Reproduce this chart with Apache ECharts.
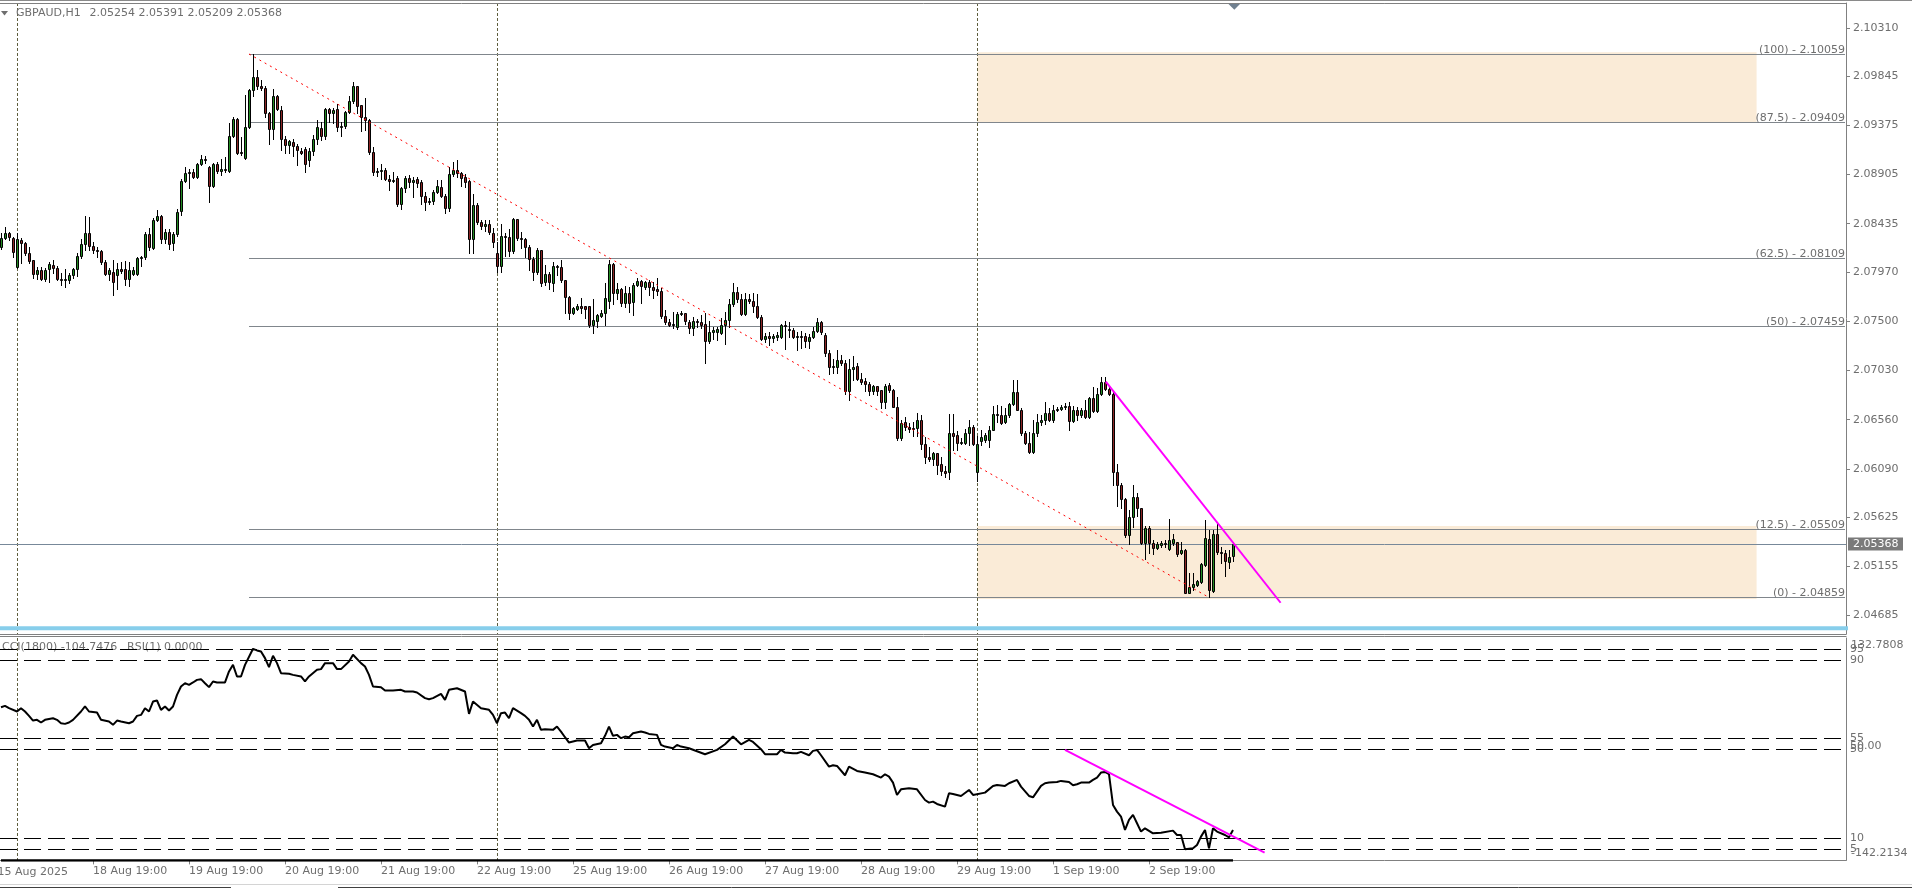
<!DOCTYPE html>
<html><head><meta charset="utf-8">
<script src="https://cdn.jsdelivr.net/npm/echarts@6/dist/echarts.min.js"></script>
<style>html,body{margin:0;padding:0;background:#fff;overflow:hidden}#c{width:1912px;height:889px}</style>
</head><body><div id="c"></div>
<script>
const symbolTitle = 'GBPAUD,H1';
const titleQuote = '2.05254 2.05391 2.05209 2.05368';
const cciTitle = 'CCI(1800) -104.7476';
const rsiTitle = 'RSI(1) 0.0000';

const opens = [
2.0821,2.0830,2.0835,2.0830,2.0802,2.0828,2.0825,2.0815,2.0809,2.0795,
2.0799,2.0791,2.0800,2.0804,2.0801,2.0791,2.0790,2.0790,2.0794,2.0800,
2.0813,2.0824,2.0835,2.0822,2.0818,2.0817,2.0807,2.0795,2.0797,2.0794,
2.0800,2.0800,2.0791,2.0795,2.0795,2.0811,2.0812,2.0834,2.0820,2.0847,
2.0851,2.0829,2.0836,2.0825,2.0834,2.0856,2.0884,2.0892,2.0893,2.0888,
2.0901,2.0905,2.0898,2.0880,2.0901,2.0894,2.0896,2.0894,2.0927,2.0944,
2.0912,2.0906,2.0936,2.0971,2.0984,2.0975,2.0973,2.0949,2.0934,2.0966,
2.0952,2.0925,2.0919,2.0922,2.0918,2.0913,2.0915,2.0904,2.0913,2.0925,
2.0935,2.0927,2.0953,2.0949,2.0953,2.0936,2.0937,2.0950,2.0961,2.0975,
2.0957,2.0946,2.0943,2.0912,2.0893,2.0894,2.0895,2.0886,2.0884,2.0887,
2.0862,2.0878,2.0887,2.0883,2.0886,2.0883,2.0870,2.0864,2.0865,2.0874,
2.0879,2.0870,2.0859,2.0891,2.0895,2.0892,2.0888,2.0884,2.0829,2.0861,
2.0845,2.0841,2.0843,2.0835,2.0815,2.0803,2.0832,2.0831,2.0817,2.0848,
2.0830,2.0829,2.0821,2.0810,2.0797,2.0818,2.0788,2.0795,2.0787,2.0803,
2.0802,2.0790,2.0773,2.0758,2.0762,2.0765,2.0765,2.0765,2.0747,2.0750,
2.0755,2.0758,2.0770,2.0805,2.0777,2.0781,2.0768,2.0777,2.0769,2.0785,
2.0789,2.0783,2.0788,2.0783,2.0781,2.0779,2.0755,2.0749,2.0747,2.0745,
2.0757,2.0758,2.0749,2.0744,2.0750,2.0749,2.0748,2.0731,2.0740,2.0740,
2.0739,2.0747,2.0751,2.0767,2.0778,2.0771,2.0757,2.0771,2.0770,2.0765,
2.0754,2.0733,2.0736,2.0734,2.0735,2.0735,2.0747,2.0743,2.0742,2.0735,
2.0736,2.0736,2.0731,2.0735,2.0741,2.0749,2.0737,2.0720,2.0706,2.0706,
2.0713,2.0710,2.0683,2.0704,2.0707,2.0695,2.0693,2.0690,2.0683,2.0688,
2.0684,2.0673,2.0689,2.0684,2.0668,2.0638,2.0654,2.0649,2.0647,2.0648,
2.0656,2.0633,2.0620,2.0618,2.0624,2.0614,2.0607,2.0606,2.0643,2.0641,
2.0634,2.0634,2.0643,2.0649,2.0606,2.0636,2.0637,2.0637,2.0646,2.0661,
2.0660,2.0654,2.0660,2.0671,2.0682,2.0665,2.0643,2.0634,2.0625,2.0643,
2.0654,2.0656,2.0662,2.0656,2.0665,2.0666,2.0668,2.0669,2.0655,2.0665,
2.0660,2.0665,2.0659,2.0677,2.0664,2.0681,2.0692,2.0685,2.0681,2.0606,
2.0593,2.0580,2.0546,2.0563,2.0582,2.0571,2.0538,2.0552,2.0538,2.0533,
2.0536,2.0538,2.0532,2.0538,2.0539,2.0528,2.0531,2.0490,2.0496,2.0498,
2.0501,2.0517,2.0542,2.0492,2.0547,2.0529,2.0528,2.0520,2.05254];

const highs = [
2.0835,2.0840,2.0836,2.0831,2.0835,2.0830,2.0826,2.0821,2.0809,2.0802,
2.0802,2.0801,2.0807,2.0809,2.0803,2.0796,2.0800,2.0796,2.0801,2.0815,
2.0829,2.0851,2.0850,2.0826,2.0821,2.0818,2.0809,2.0801,2.0809,2.0806,
2.0807,2.0808,2.0807,2.0802,2.0812,2.0813,2.0836,2.0839,2.0849,2.0857,
2.0852,2.0838,2.0838,2.0836,2.0858,2.0886,2.0898,2.0896,2.0896,2.0902,
2.0909,2.0908,2.0899,2.0902,2.0903,2.0905,2.0907,2.0940,2.0946,2.0945,
2.0926,2.0967,2.0972,2.10059,2.0991,2.0981,2.0975,2.0950,2.0972,2.0967,
2.0956,2.0927,2.0924,2.0925,2.0920,2.0916,2.0917,2.0916,2.0928,2.0943,
2.0941,2.0954,2.0954,2.0954,2.0958,2.0941,2.0951,2.0966,2.0979,2.0975,
2.0957,2.0964,2.0944,2.0917,2.0897,2.0901,2.0897,2.0890,2.0893,2.0889,
2.0879,2.0889,2.0890,2.0888,2.0888,2.0885,2.0874,2.0868,2.0876,2.0885,
2.0885,2.0872,2.0898,2.0903,2.0904,2.0893,2.0891,2.0885,2.0872,2.0863,
2.0847,2.0847,2.0847,2.0839,2.0826,2.0843,2.0835,2.0838,2.0849,2.0848,
2.0836,2.0830,2.0823,2.0812,2.0820,2.0818,2.0804,2.0797,2.0807,2.0804,
2.0809,2.0790,2.0774,2.0764,2.0767,2.0772,2.0765,2.0765,2.0771,2.0757,
2.0761,2.0787,2.0809,2.0806,2.0787,2.0782,2.0784,2.0783,2.0787,2.0792,
2.0790,2.0789,2.0790,2.0788,2.0792,2.0782,2.0761,2.0752,2.0759,2.0759,
2.0760,2.0758,2.0751,2.0754,2.0752,2.0756,2.0758,2.0750,2.0745,2.0745,
2.0753,2.0759,2.0771,2.0787,2.0783,2.0776,2.0777,2.0776,2.0777,2.0776,
2.0756,2.0739,2.0740,2.0738,2.0740,2.0748,2.0750,2.0749,2.0744,2.0740,
2.0741,2.0739,2.0738,2.0745,2.0753,2.0750,2.0739,2.0723,2.0714,2.0723,
2.0718,2.0713,2.0714,2.0717,2.0710,2.0701,2.0696,2.0692,2.0689,2.0688,
2.0684,2.0690,2.0691,2.0685,2.0678,2.0656,2.0659,2.0653,2.0654,2.0662,
2.0660,2.0639,2.0630,2.0625,2.0624,2.0620,2.0612,2.0661,2.0661,2.0645,
2.0638,2.0647,2.0656,2.0651,2.0640,2.0646,2.0643,2.0650,2.0669,2.0670,
2.0669,2.0667,2.0672,2.0694,2.0694,2.0667,2.0645,2.0644,2.0656,2.0661,
2.0660,2.0673,2.0667,2.0670,2.0668,2.0670,2.0672,2.0673,2.0669,2.0668,
2.0667,2.0675,2.0678,2.0687,2.0686,2.0697,2.0697,2.0688,2.0682,2.0614,
2.0595,2.0581,2.0570,2.0593,2.0586,2.0571,2.0554,2.0554,2.0541,2.0539,
2.0540,2.0541,2.0561,2.0547,2.0539,2.0539,2.0532,2.0509,2.0509,2.0503,
2.0519,2.0560,2.0550,2.0550,2.0557,2.0534,2.0531,2.0531,2.05391];

const lows = [
2.0819,2.0829,2.0828,2.0812,2.0801,2.0806,2.0814,2.0806,2.0792,2.0791,
2.0790,2.0789,2.0788,2.0796,2.0790,2.0785,2.0783,2.0787,2.0792,2.0793,
2.0811,2.0818,2.0818,2.0815,2.0812,2.0805,2.0794,2.0790,2.0775,2.0781,
2.0796,2.0785,2.0784,2.0794,2.0794,2.0803,2.0810,2.0818,2.0819,2.0846,
2.0825,2.0825,2.0819,2.0818,2.0832,2.0852,2.0883,2.0878,2.0887,2.0887,
2.0900,2.0902,2.0864,2.0879,2.0892,2.0890,2.0893,2.0893,2.0926,2.0910,
2.0909,2.0905,2.0935,2.0966,2.0972,2.0971,2.0946,2.0920,2.0925,2.0952,
2.0914,2.0911,2.0911,2.0908,2.0900,2.0910,2.0893,2.0899,2.0909,2.0920,
2.0924,2.0925,2.0941,2.0940,2.0932,2.0927,2.0935,2.0949,2.0959,2.0949,
2.0932,2.0933,2.0910,2.0890,2.0889,2.0886,2.0885,2.0876,2.0883,2.0860,
2.0858,2.0874,2.0879,2.0869,2.0879,2.0862,2.0857,2.0862,2.0862,2.0873,
2.0869,2.0854,2.0856,2.0889,2.0888,2.0880,2.0879,2.0815,2.0815,2.0843,
2.0838,2.0837,2.0834,2.0821,2.0797,2.0797,2.0813,2.0813,2.0815,2.0828,
2.0820,2.0812,2.0799,2.0790,2.0795,2.0784,2.0785,2.0781,2.0779,2.0794,
2.0788,2.0758,2.0752,2.0757,2.0761,2.0758,2.0753,2.0745,2.0739,2.0745,
2.0754,2.0747,2.0763,2.0767,2.0771,2.0765,2.0764,2.0759,2.0756,2.0784,
2.0768,2.0781,2.0775,2.0772,2.0775,2.0753,2.0748,2.0746,2.0744,2.0743,
2.0756,2.0748,2.0739,2.0737,2.0745,2.0744,2.0710,2.0729,2.0733,2.0732,
2.0738,2.0728,2.0745,2.0765,2.0769,2.0756,2.0756,2.0768,2.0759,2.0753,
2.0732,2.0730,2.0727,2.0730,2.0732,2.0734,2.0724,2.0735,2.0734,2.0723,
2.0725,2.0726,2.0725,2.0734,2.0740,2.0738,2.0717,2.0700,2.0701,2.0701,
2.0708,2.0681,2.0675,2.0694,2.0694,2.0690,2.0683,2.0680,2.0681,2.0680,
2.0667,2.0667,2.0682,2.0668,2.0637,2.0637,2.0646,2.0644,2.0640,2.0640,
2.0628,2.0615,2.0616,2.0613,2.0604,2.0603,2.0601,2.0599,2.0627,2.0627,
2.0633,2.0633,2.0632,2.0632,2.0597,2.0632,2.0635,2.0630,2.0646,2.0654,
2.0652,2.0653,2.0659,2.0670,2.0665,2.0641,2.0633,2.0624,2.0624,2.0640,
2.0651,2.0652,2.0655,2.0654,2.0664,2.0665,2.0666,2.0646,2.0654,2.0656,
2.0659,2.0658,2.0658,2.0663,2.0663,2.0680,2.0684,2.0680,2.0593,2.0573,
2.0571,2.0544,2.0537,2.0553,2.0564,2.0537,2.0523,2.0528,2.0527,2.0532,
2.0534,2.0534,2.0531,2.0536,2.0526,2.0527,2.0490,2.0490,2.0493,2.0497,
2.0500,2.0516,2.04859,2.0491,2.0527,2.0519,2.0506,2.0514,2.05209];

const closes = [
2.0830,2.0835,2.0831,2.0816,2.0829,2.0825,2.0815,2.0808,2.0795,2.0799,
2.0791,2.0799,2.0805,2.0801,2.0791,2.0790,2.0791,2.0794,2.0800,2.0813,
2.0824,2.0835,2.0822,2.0818,2.0817,2.0807,2.0795,2.0799,2.0788,2.0800,
2.0798,2.0791,2.0799,2.0799,2.0811,2.0812,2.0834,2.0821,2.0847,2.0851,
2.0829,2.0836,2.0824,2.0834,2.0855,2.0884,2.0892,2.0893,2.0888,2.0901,
2.0905,2.0904,2.0880,2.0901,2.0894,2.0896,2.0895,2.0927,2.0944,2.0911,
2.0911,2.0936,2.0971,2.0984,2.0975,2.0973,2.0949,2.0934,2.0966,2.0953,
2.0925,2.0919,2.0923,2.0918,2.0914,2.0911,2.0901,2.0913,2.0925,2.0936,
2.0927,2.0953,2.0949,2.0952,2.0936,2.0937,2.0950,2.0961,2.0975,2.0956,
2.0946,2.0943,2.0912,2.0893,2.0894,2.0895,2.0886,2.0884,2.0885,2.0862,
2.0878,2.0887,2.0883,2.0885,2.0882,2.0870,2.0864,2.0865,2.0874,2.0880,
2.0870,2.0859,2.0891,2.0895,2.0892,2.0887,2.0883,2.0829,2.0861,2.0845,
2.0841,2.0843,2.0836,2.0826,2.0803,2.0832,2.0831,2.0817,2.0848,2.0830,
2.0829,2.0821,2.0810,2.0797,2.0818,2.0787,2.0795,2.0788,2.0803,2.0802,
2.0790,2.0773,2.0758,2.0763,2.0765,2.0763,2.0762,2.0747,2.0751,2.0756,
2.0758,2.0772,2.0805,2.0777,2.0781,2.0768,2.0777,2.0768,2.0785,2.0789,
2.0784,2.0788,2.0783,2.0780,2.0779,2.0755,2.0749,2.0747,2.0748,2.0757,
2.0758,2.0750,2.0744,2.0750,2.0749,2.0747,2.0731,2.0740,2.0742,2.0743,
2.0747,2.0751,2.0767,2.0778,2.0771,2.0757,2.0771,2.0770,2.0765,2.0754,
2.0733,2.0736,2.0734,2.0736,2.0737,2.0747,2.0746,2.0742,2.0735,2.0736,
2.0735,2.0731,2.0735,2.0741,2.0749,2.0740,2.0720,2.0706,2.0707,2.0713,
2.0710,2.0683,2.0704,2.0706,2.0695,2.0692,2.0690,2.0683,2.0688,2.0683,
2.0673,2.0688,2.0684,2.0668,2.0638,2.0653,2.0649,2.0647,2.0648,2.0656,
2.0633,2.0620,2.0618,2.0624,2.0613,2.0607,2.0605,2.0643,2.0640,2.0634,
2.0635,2.0643,2.0649,2.0633,2.0633,2.0639,2.0641,2.0646,2.0661,2.0660,
2.0653,2.0660,2.0671,2.0682,2.0665,2.0643,2.0634,2.0625,2.0643,2.0654,
2.0656,2.0662,2.0656,2.0665,2.0666,2.0668,2.0669,2.0655,2.0665,2.0660,
2.0665,2.0659,2.0677,2.0664,2.0681,2.0692,2.0685,2.0681,2.0606,2.0593,
2.0580,2.0546,2.0563,2.0582,2.0571,2.0538,2.0552,2.0538,2.0533,2.0537,
2.0538,2.0537,2.0541,2.0542,2.0527,2.0531,2.0490,2.0496,2.0499,2.0502,
2.0518,2.0543,2.0493,2.0547,2.0529,2.0528,2.0521,2.0525,2.05368];

const cciPoints = [
[0,47.2],[1,48.9],[2,46.0],[4,41.9],[5,46.0],[6,41.9],[7,36.5],[8,30.7],[9,31.6],[10,28.3],[11,31.6],[13,33.6],[14,31.6],[15,27.4],[16,26.6],[17,28.3],[18,31.6],[20,41.9],[21,48.1],[22,41.9],[24,40.6],[25,31.6],[27,29.5],[28,25.4],[29,30.7],[30,29.5],[32,27.4],[33,29.5],[34,36.5],[35,37.7],[36,46.0],[37,41.9],[38,54.2],[39,55.5],[40,43.9],[41,48.1],[42,43.1],[43,48.1],[44,62.5],[45,72.8],[46,76.9],[47,74.9],[48,77.8],[49,81.0],[50,81.9],[51,76.9],[52,72.0],[53,79.0],[54,77.8],[56,77.8],[57,91.4],[58,99.6],[59,85.2],[60,85.2],[61,99.6],[63,119.4],[64,117.4],[65,116.1],[66,107.9],[67,96.7],[68,110.8],[69,101.7],[70,89.3],[72,88.5],[73,87.2],[75,85.2],[76,79.0],[77,85.2],[79,93.4],[80,94.3],[81,101.7],[83,101.7],[84,94.3],[85,94.3],[87,103.7],[88,112.0],[90,101.7],[91,97.6],[92,87.2],[93,72.8],[95,72.0],[96,67.9],[98,67.9],[100,68.7],[101,66.6],[103,66.6],[104,65.4],[106,58.4],[107,57.1],[108,58.4],[110,63.7],[111,56.3],[112,68.7],[114,70.7],[116,66.6],[117,39.0],[118,54.2],[120,46.0],[122,44.0],[123,37.7],[124,27.4],[125,39.8],[126,40.6],[127,33.6],[128,46.0],[130,39.8],[131,36.5],[132,31.6],[133,23.3],[134,31.6],[135,19.2],[136,20.0],[138,19.2],[139,23.3],[140,17.1],[141,10.1],[142,3.5],[144,6.0],[146,6.0],[147,-3.5],[148,0.6],[150,2.7],[151,11.8],[152,23.3],[153,11.8],[154,13.0],[155,8.9],[156,10.9],[157,10.1],[158,15.0],[160,17.1],[161,15.9],[162,14.2],[164,13.0],[165,0.6],[166,-1.5],[168,-3.5],[169,0.6],[170,-1.5],[172,-3.5],[176,-10.9],[179,-5.6],[181,1.4],[183,10.9],[185,1.4],[187,6.8],[188,4.3],[190,-4.7],[191,-10.9],[194,-10.9],[195,-5.6],[196,-8.9],[198,-9.7],[199,-9.7],[200,-8.0],[202,-12.2],[203,-6.8],[204,-5.6],[205,-12.2],[207,-26.2],[208,-24.5],[209,-25.4],[211,-36.9],[212,-26.2],[214,-31.6],[216,-33.6],[218,-35.7],[220,-39.8],[221,-35.7],[222,-38.6],[223,-46.0],[224,-61.3],[225,-54.3],[227,-53.0],[229,-54.3],[231,-67.5],[232,-70.8],[233,-69.5],[234,-72.4],[236,-75.7],[237,-59.2],[238,-60.0],[240,-62.5],[242,-55.1],[243,-61.3],[246,-58.4],[248,-50.1],[249,-48.9],[251,-50.1],[252,-46.8],[254,-42.7],[255,-51.0],[257,-62.5],[258,-64.2],[260,-50.1],[261,-46.8],[262,-46.0],[264,-45.2],[265,-43.9],[267,-45.2],[268,-49.3],[269,-48.1],[270,-46.0],[272,-46.0],[273,-42.7],[274,-39.8],[275,-33.6],[276,-32.8],[277,-35.7],[278,-73.6],[279,-81.9],[280,-88.1],[281,-104.6],[282,-92.2],[283,-86.0],[284,-96.3],[285,-106.6],[286,-102.5],[288,-108.7],[290,-107.9],[293,-105.4],[294,-110.8],[295,-110.8],[296,-128.5],[298,-127.3],[299,-123.1],[300,-112.8],[301,-104.6],[302,-127.3],[303,-102.5],[304,-106.6],[306,-110.8],[307,-113.7],[308,-104.7476]];

const rsiPoints = [[0,0],[308,0]];
const cciMax = 132.7808, cciMin = -142.2134;
const rsiLevels = [95, 90, 55, 50, 10, 5];
const extraLevelLabel = '50.00';

const priceTicks = [2.10310,2.09845,2.09375,2.08905,2.08435,2.07970,2.07500,2.07030,2.06560,2.06090,2.05625,2.05155,2.04685];
const timeTickIdx = [23,47,71,95,119,143,167,191,215,239,263,287];
const timeTickLabels = ['18 Aug 19:00','19 Aug 19:00','20 Aug 19:00','21 Aug 19:00','22 Aug 19:00','25 Aug 19:00','26 Aug 19:00','27 Aug 19:00','28 Aug 19:00','29 Aug 19:00','1 Sep 19:00','2 Sep 19:00'];
const firstDateLabel = '15 Aug 2025';
const separatorIdx = [4, 124, 244];

const fibLevels = [100, 87.5, 62.5, 50, 12.5, 0];
const fibPrices = [2.10059, 2.09409, 2.08109, 2.07459, 2.05509, 2.04859];
const fibStartIdx = 62;
const zoneStart = [244.1, 244.1];
const zoneEnd = [438.9, 438.9];
const zoneTop = [2.10075, 2.05542];
const zoneBottom = [2.09409, 2.04844];

const redTrend = [[62, 2.10059], [302, 2.04859]];
const magentaTrend = [[276.2, 2.06923], [319.9, 2.04808]];
const cciTrend = [[266, -5.6], [315.9, -132.7]];
const bidPrice = 2.05368;
const blueLinePrice = 2.04563;

// ---------- chart ----------
const FONT = '11px "DejaVu Sans"';
const TXT = '#6e6e6e';
const AX = '#808080';
const xMin = -0.25, xMax = 461.25;
const yMin = 2.04509, yMax = 2.10547;

const candleData = opens.map((o, i) => [i, o, highs[i], lows[i], closes[i]]);

function renderCandle(params, api) {
  const i = api.value(0), o = api.value(1), h = api.value(2), l = api.value(3), c = api.value(4);
  const pO = api.coord([i, o]), pH = api.coord([i, h]), pL = api.coord([i, l]), pC = api.coord([i, c]);
  const x = Math.round(pO[0]) + 0.5;
  const top = Math.round(Math.min(pO[1], pC[1])), bot = Math.round(Math.max(pO[1], pC[1]));
  const ch = [{type: 'line', shape: {x1: x, y1: Math.round(pH[1]), x2: x, y2: Math.round(pL[1]) + 1}, style: {stroke: '#000', lineWidth: 1}}];
  if (bot - top < 1) {
    ch.push({type: 'line', shape: {x1: x - 1.5, y1: top + 0.5, x2: x + 1.5, y2: top + 0.5}, style: {stroke: '#000', lineWidth: 1}});
  } else {
    ch.push({type: 'rect', shape: {x: x - 1, y: top + 0.5, width: 2, height: bot - top}, style: {fill: c >= o ? '#238b23' : '#8b2525', stroke: '#000', lineWidth: 1}});
  }
  return {type: 'group', children: ch};
}

function renderFib(params, api) {
  const cs = params.coordSys;
  const p = api.coord([api.value(0), api.value(1)]);
  const right = cs.x + cs.width - 1;
  const y = Math.round(p[1]) + 0.5;
  const k = params.dataIndex;
  return {type: 'group', children: [
    {type: 'line', shape: {x1: p[0], y1: y, x2: right, y2: y}, style: {stroke: '#80868c', lineWidth: 1}},
    {type: 'text', x: right, y: y + 1, style: {text: '(' + fibLevels[k] + ') - ' + fibPrices[k].toFixed(5), align: 'right', verticalAlign: 'bottom', fill: TXT, font: FONT}}
  ]};
}

function renderZone(params, api) {
  const a = api.coord([api.value(0), api.value(2)]);
  const b = api.coord([api.value(1), api.value(3)]);
  return {type: 'rect', shape: {x: a[0], y: a[1], width: b[0] - a[0], height: b[1] - a[1]}, style: {fill: '#faebd7'}};
}

function renderSep(params, api) {
  const cs = params.coordSys;
  const p = api.coord([api.value(0), 0]);
  const x = Math.round(p[0]) + 0.5;
  return {type: 'line', shape: {x1: x, y1: cs.y, x2: x, y2: cs.y + cs.height}, style: {stroke: '#5e5e3e', lineWidth: 1, lineDash: [3, 2]}};
}

function renderBid(params, api) {
  const cs = params.coordSys;
  const v = api.value(0);
  const p = api.coord([0, v]);
  const y = Math.round(p[1]) + 0.5;
  return {type: 'group', children: [
    {type: 'line', shape: {x1: cs.x, y1: y, x2: cs.x + cs.width, y2: y}, style: {stroke: '#778899', lineWidth: 1}},
    {type: 'rect', shape: {x: cs.x + cs.width + 2, y: y - 7, width: 55, height: 13}, style: {fill: '#7a7a7a'}},
    {type: 'text', x: cs.x + cs.width + 7, y: y, style: {text: v.toFixed(5), fill: '#fff', font: FONT, verticalAlign: 'middle'}}
  ]};
}

function renderBlue(params, api) {
  const cs = params.coordSys;
  const p = api.coord([0, api.value(0)]);
  return {type: 'rect', shape: {x: cs.x, y: p[1] - 2, width: cs.width + 2, height: 4}, style: {fill: '#87ceeb'}};
}

const option = {
  animation: false,
  backgroundColor: '#fff',
  grid: [
    {left: 0, top: 3, width: 1846, height: 631},
    {left: 0, top: 638, width: 1846, height: 222.4}
  ],
  xAxis: [
    {gridIndex: 0, type: 'value', min: xMin, max: xMax, show: false},
    {gridIndex: 1, type: 'value', min: xMin, max: xMax,
     axisLine: {show: true, onZero: false, lineStyle: {color: AX}},
     axisTick: {show: true, customValues: timeTickIdx, length: 4, lineStyle: {color: AX}},
     axisLabel: {customValues: timeTickIdx, formatter: v => timeTickLabels[timeTickIdx.indexOf(v)] || '', align: 'left', margin: 5, color: TXT, fontFamily: 'DejaVu Sans', fontSize: 11},
     splitLine: {show: false}}
  ],
  yAxis: [
    {gridIndex: 0, type: 'value', position: 'right', min: yMin, max: yMax,
     axisLine: {show: true, onZero: false, lineStyle: {color: AX}},
     axisTick: {show: true, customValues: priceTicks, length: 4, lineStyle: {color: AX}},
     axisLabel: {customValues: priceTicks, formatter: v => v.toFixed(5), margin: 7, color: TXT, fontFamily: 'DejaVu Sans', fontSize: 11},
     splitLine: {show: false}},
    {gridIndex: 1, type: 'value', position: 'right', min: cciMin, max: cciMax,
     axisLine: {show: true, onZero: false, lineStyle: {color: AX}}, axisTick: {show: false}, axisLabel: {show: false}, splitLine: {show: false}},
    {gridIndex: 1, type: 'value', position: 'right', min: 0, max: 100,
     axisLine: {show: false}, axisTick: {show: true, customValues: rsiLevels, length: 3, lineStyle: {color: AX}},
     axisLabel: {customValues: rsiLevels, formatter: v => String(v), margin: 4, color: TXT, fontFamily: 'DejaVu Sans', fontSize: 11},
     splitLine: {show: false}}
  ],
  series: [
    {type: 'custom', xAxisIndex: 0, yAxisIndex: 0, z: 1, silent: true, renderItem: renderZone,
     data: zoneStart.map((s, k) => [s, zoneEnd[k], zoneTop[k], zoneBottom[k]])},
    {type: 'custom', xAxisIndex: 0, yAxisIndex: 0, z: 1, silent: true, renderItem: renderSep, data: separatorIdx.map(v => [v])},
    {type: 'custom', xAxisIndex: 1, yAxisIndex: 1, z: 1, silent: true, renderItem: renderSep, data: separatorIdx.map(v => [v])},
    {type: 'custom', xAxisIndex: 0, yAxisIndex: 0, z: 2, silent: true, renderItem: renderFib,
     data: fibPrices.map(p => [fibStartIdx, p])},
    {type: 'custom', xAxisIndex: 0, yAxisIndex: 0, z: 2, silent: true, renderItem: renderBid, data: [[bidPrice]]},
    {type: 'custom', xAxisIndex: 0, yAxisIndex: 0, z: 2, silent: true, renderItem: renderBlue, data: [[blueLinePrice]]},
    {type: 'custom', xAxisIndex: 0, yAxisIndex: 0, z: 4, silent: true, renderItem: renderCandle,
     encode: {x: 0, y: [1, 2, 3, 4]}, data: candleData},
    {type: 'line', xAxisIndex: 0, yAxisIndex: 0, z: 5, silent: true, symbol: 'none', data: redTrend,
     lineStyle: {color: '#ff0000', width: 1, type: [2, 4]}},
    {type: 'line', xAxisIndex: 0, yAxisIndex: 0, z: 5, silent: true, symbol: 'none', data: magentaTrend,
     lineStyle: {color: '#ff00ff', width: 2}},
    {type: 'line', xAxisIndex: 1, yAxisIndex: 2, z: 3, silent: true, symbol: 'none', data: rsiPoints,
     lineStyle: {color: '#000', width: 2.5},
     markLine: {silent: true, symbol: 'none', label: {show: false},
       lineStyle: {color: '#000', width: 1, type: [17, 7]},
       data: rsiLevels.map(v => ({yAxis: v}))}},
    {type: 'line', xAxisIndex: 1, yAxisIndex: 1, z: 4, silent: true, symbol: 'none', data: cciPoints,
     lineStyle: {color: '#000', width: 2}},
    {type: 'line', xAxisIndex: 1, yAxisIndex: 1, z: 5, silent: true, symbol: 'none', data: cciTrend,
     lineStyle: {color: '#ff00ff', width: 2}}
  ],
  graphic: [
    {type: 'line', z: 50, shape: {x1: 0, y1: 0.5, x2: 1912, y2: 0.5}, style: {stroke: '#8a8a8a', lineWidth: 1}},
    {type: 'line', z: 50, shape: {x1: 0, y1: 3.5, x2: 1846.5, y2: 3.5}, style: {stroke: '#808080', lineWidth: 1}},
    {type: 'line', z: 50, shape: {x1: 0, y1: 634.5, x2: 1846.5, y2: 634.5}, style: {stroke: '#808080', lineWidth: 1}},
    {type: 'line', z: 50, shape: {x1: 0, y1: 636.5, x2: 1846.5, y2: 636.5}, style: {stroke: '#808080', lineWidth: 1}},
    {type: 'polygon', z: 50, shape: {points: [[1, 11], [8, 11], [4.5, 15.5]]}, style: {fill: '#6e6e6e'}},
    {type: 'text', z: 50, x: 16, y: 13.5, style: {text: symbolTitle, fill: TXT, font: FONT, verticalAlign: 'middle'}},
    {type: 'text', z: 50, x: 89.5, y: 13.5, style: {text: titleQuote, fill: TXT, font: FONT, verticalAlign: 'middle'}},
    {type: 'polygon', z: 50, shape: {points: [[1228.5, 4], [1240, 4], [1234.3, 9.7]]}, style: {fill: '#708090'}},
    {type: 'text', z: 1, x: 2, y: 647.5, style: {text: cciTitle, fill: TXT, font: FONT, verticalAlign: 'middle'}},
    {type: 'text', z: 1, x: 127, y: 647.5, style: {text: rsiTitle, fill: TXT, font: FONT, verticalAlign: 'middle'}},
    {type: 'text', z: 50, x: 1851, y: 645.5, style: {text: cciMax.toFixed(4), fill: TXT, font: FONT, verticalAlign: 'middle'}},
    {type: 'text', z: 50, x: 1851, y: 852.8, style: {text: cciMin.toFixed(4), fill: TXT, font: FONT, verticalAlign: 'middle'}},
    {type: 'text', z: 50, x: 1850, y: 746.5, style: {text: extraLevelLabel, fill: TXT, font: FONT, verticalAlign: 'middle'}},
    {type: 'text', z: 50, x: -2.5, y: 872, style: {text: firstDateLabel, fill: TXT, font: FONT, verticalAlign: 'middle'}},
    {type: 'line', z: 50, shape: {x1: 0, y1: 884.5, x2: 1912, y2: 884.5}, style: {stroke: '#d4d4d4', lineWidth: 1}},
    {type: 'line', z: 50, shape: {x1: 0, y1: 887.5, x2: 231, y2: 887.5}, style: {stroke: '#404040', lineWidth: 1}},
    {type: 'line', z: 50, shape: {x1: 338, y1: 887.5, x2: 1912, y2: 887.5}, style: {stroke: '#404040', lineWidth: 1}}
  ]
};

const chart = echarts.init(document.getElementById('c'), null, {renderer: 'canvas', width: 1912, height: 889});
chart.setOption(option);
</script>
</body></html>
